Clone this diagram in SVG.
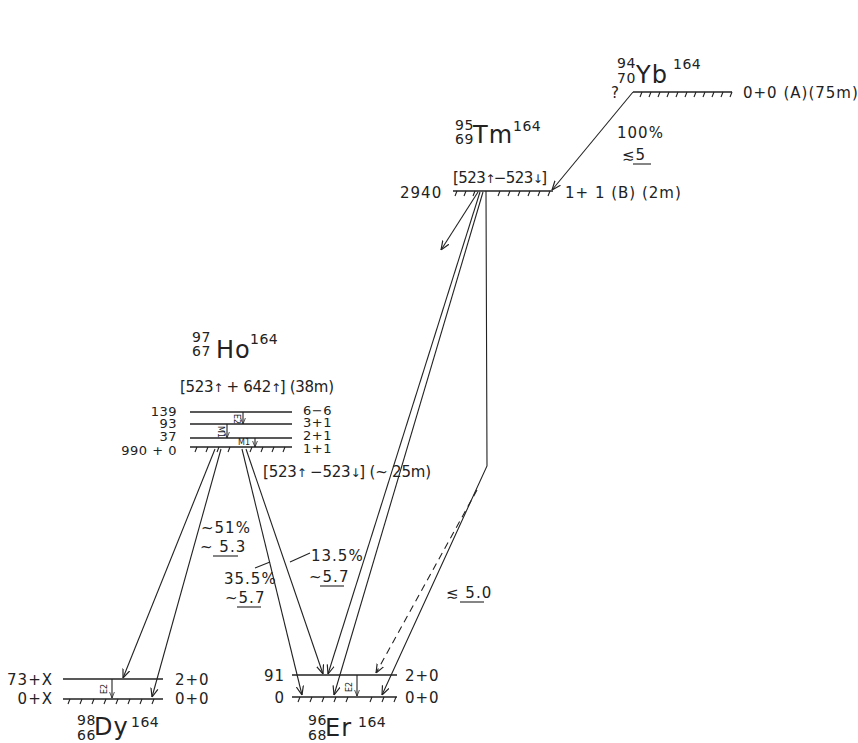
<svg xmlns="http://www.w3.org/2000/svg" width="858" height="743" viewBox="0 0 858 743">
<defs>
<marker id="ah" viewBox="0 0 10 10" refX="10" refY="5" markerWidth="9" markerHeight="9" markerUnits="userSpaceOnUse" orient="auto"><path d="M0,1 L10,5 L0,9" fill="none" stroke="#222" stroke-width="1.3"/></marker>
<marker id="ahs" viewBox="0 0 10 10" refX="10" refY="5" markerWidth="6" markerHeight="6" markerUnits="userSpaceOnUse" orient="auto"><path d="M0,1 L10,5 L0,9" fill="none" stroke="#222" stroke-width="1.3"/></marker>
<style>
text{font-family:"DejaVu Sans","Liberation Sans",sans-serif;fill:#222;letter-spacing:1px}
.t{font-size:15px}
.s{font-size:13px;letter-spacing:0.5px}
.el{font-size:24px;letter-spacing:1px}
.sc{font-size:14px;letter-spacing:0.5px}
.tiny{font-size:8px;letter-spacing:0}
.ar{font-size:12px;letter-spacing:0}
.lv{stroke:#222;stroke-width:1.4;fill:none}
.h{stroke:#222;stroke-width:1.1;fill:none}
.c{stroke:#222;stroke-width:1.1;fill:none}
.ul{stroke:#222;stroke-width:1.1}
</style>
</defs>
<rect width="858" height="743" fill="#fff"/>

<g id="yb">
<text class="sc" x="617" y="68">94</text>
<text class="sc" x="617" y="83">70</text>
<text class="el" x="636" y="83">Yb</text>
<text class="sc" x="673" y="69">164</text>
<line class="lv" x1="633" y1="92" x2="732" y2="92"/>
<path class="h" d="M642,92l-2,5M651,92l-2,5M660,92l-2,5M669,92l-2,5M678,92l-2,5M687,92l-2,5M696,92l-2,5M705,92l-2,5M714,92l-2,5M723,92l-2,5M732,92l-2,5"/>
<text class="t" x="611" y="98">?</text>
<text class="t" x="743" y="98">0+0 (A)(75m)</text>
<text class="t" x="617" y="138">100%</text>
<text class="t" x="622" y="160">≲5</text>
<line class="ul" x1="633" y1="164" x2="651" y2="164"/>
</g>

<g id="tm">
<text class="sc" x="455" y="130">95</text>
<text class="sc" x="455" y="144">69</text>
<text class="el" x="473" y="143">Tm</text>
<text class="sc" x="513" y="131">164</text>
<text class="t" x="453" y="183" textLength="95">[523<tspan class="ar">↑</tspan>−523<tspan class="ar">↓</tspan>]</text>
<line class="lv" x1="453" y1="191" x2="553" y2="191"/>
<path class="h" d="M457,191l-2,5M466,191l-2,5M475,191l-2,5M500,191l-2,5M510,191l-2,5M520,191l-2,5M530,191l-2,5M540,191l-2,5M550,191l-2,5"/>
<text class="t" x="400" y="198">2940</text>
<text class="t" x="565" y="198" letter-spacing="0.3">1+ 1 (B) (2m)</text>
</g>

<g id="ho">
<text class="sc" x="192" y="342">97</text>
<text class="sc" x="192" y="356">67</text>
<text class="el" x="216" y="358">Ho</text>
<text class="sc" x="250" y="344">164</text>
<text class="t" x="180" y="392" textLength="155">[523<tspan class="ar">↑</tspan> + 642<tspan class="ar">↑</tspan>] (38m)</text>
<line class="lv" x1="190" y1="412" x2="292" y2="412"/>
<line class="lv" x1="190" y1="424" x2="292" y2="424"/>
<line class="lv" x1="190" y1="438" x2="292" y2="438"/>
<line class="lv" x1="190" y1="447" x2="292" y2="447"/>
<path class="h" d="M197,447l-2,5M208,447l-2,5M219,447l-2,5M230,447l-2,5M252,447l-2,5M263,447l-2,5M274,447l-2,5M285,447l-2,5"/>
<text class="s" x="177" y="416" text-anchor="end">139</text>
<text class="s" x="177" y="428" text-anchor="end">93</text>
<text class="s" x="177" y="441" text-anchor="end">37</text>
<text class="s" x="177" y="455" text-anchor="end">990 + 0</text>
<text class="s" x="303" y="415" letter-spacing="1.5">6−6</text>
<text class="s" x="303" y="427" letter-spacing="1.5">3+1</text>
<text class="s" x="303" y="440" letter-spacing="1.5">2+1</text>
<text class="s" x="303" y="453" letter-spacing="1.5">1+1</text>
<path class="c" d="M243,412L243,424" marker-end="url(#ahs)"/>
<path class="c" d="M227,424L227,438" marker-end="url(#ahs)"/>
<path class="c" d="M255,438L255,447" marker-end="url(#ahs)"/>
<text class="tiny" transform="translate(234,414) rotate(90)">E2</text>
<text class="tiny" transform="translate(218,426) rotate(90)">M1</text>
<text class="tiny" x="238" y="445">M1</text>
<text class="t" x="263" y="477" textLength="169">[523<tspan class="ar">↑</tspan> −523<tspan class="ar">↓</tspan>] (~ 25m)</text>
</g>

<g id="dy">
<line class="lv" x1="63" y1="679" x2="163" y2="679"/>
<line class="lv" x1="63" y1="699" x2="163" y2="699"/>
<path class="h" d="M70,699l-2,5M82,699l-2,5M94,699l-2,5M106,699l-2,5M118,699l-2,5M130,699l-2,5M142,699l-2,5M154,699l-2,5"/>
<text class="t" x="53" y="685" text-anchor="end">73+X</text>
<text class="t" x="53" y="704" text-anchor="end">0+X</text>
<text class="t" x="175" y="685">2+0</text>
<text class="t" x="175" y="704">0+0</text>
<path class="c" d="M112,679L112,698" marker-end="url(#ahs)"/>
<text class="tiny" transform="translate(107,694) rotate(-90)">E2</text>
<text class="sc" x="77" y="725">98</text>
<text class="sc" x="77" y="740">66</text>
<text class="el" x="94" y="735">Dy</text>
<text class="sc" x="131" y="727">164</text>
</g>

<g id="er">
<line class="lv" x1="292" y1="675" x2="397" y2="675"/>
<line class="lv" x1="292" y1="697" x2="397" y2="697"/>
<path class="h" d="M300,697l-2,5M312,697l-2,5M324,697l-2,5M336,697l-2,5M348,697l-2,5M372,697l-2,5M384,697l-2,5M396,697l-2,5"/>
<text class="t" x="285" y="681" text-anchor="end">91</text>
<text class="t" x="285" y="703" text-anchor="end">0</text>
<text class="t" x="405" y="681">2+0</text>
<text class="t" x="405" y="703">0+0</text>
<path class="c" d="M357,675L357,696" marker-end="url(#ahs)"/>
<text class="tiny" transform="translate(352,692) rotate(-90)">E2</text>
<text class="sc" x="308" y="725">96</text>
<text class="sc" x="308" y="740">68</text>
<text class="el" x="325" y="736">Er</text>
<text class="sc" x="358" y="727">164</text>
</g>

<g id="labels">
<text class="t" x="201" y="533">~51%</text>
<text class="t" x="200" y="552">~ 5.3</text>
<line class="ul" x1="213" y1="556" x2="238" y2="556"/>
<text class="t" x="224" y="584">35.5%</text>
<text class="t" x="225" y="603">~5.7</text>
<line class="ul" x1="237" y1="607" x2="261" y2="607"/>
<text class="t" x="311" y="561">13.5%</text>
<text class="t" x="309" y="582">~5.7</text>
<line class="ul" x1="320" y1="586" x2="344" y2="586"/>
<text class="t" x="446" y="598">≲ 5.0</text>
<line class="ul" x1="460" y1="602" x2="484" y2="602"/>
</g>

<g id="connectors">
<path class="c" d="M633,92L552,190" marker-end="url(#ah)"/>
<path class="c" d="M478,192L441,250" marker-end="url(#ah)"/>
<path class="c" d="M480,192L328,674" marker-end="url(#ah)"/>
<path class="c" d="M483,192L334,695" marker-end="url(#ah)"/>
<path class="c" d="M486,191L487,466L382,695" marker-end="url(#ah)"/>
<path class="c" d="M477,490L376,673" stroke-dasharray="7,5" marker-end="url(#ah)"/>
<path class="c" d="M215,449L123,678" marker-end="url(#ah)"/>
<path class="c" d="M221,449L152,697" marker-end="url(#ah)"/>
<path class="c" d="M242,449L302,695" marker-end="url(#ah)"/>
<path class="c" d="M246,449L323,674" marker-end="url(#ah)"/>
<path class="c" d="M255,568L270,562"/>
<path class="c" d="M290,562L310,553"/>
</g>
</svg>
